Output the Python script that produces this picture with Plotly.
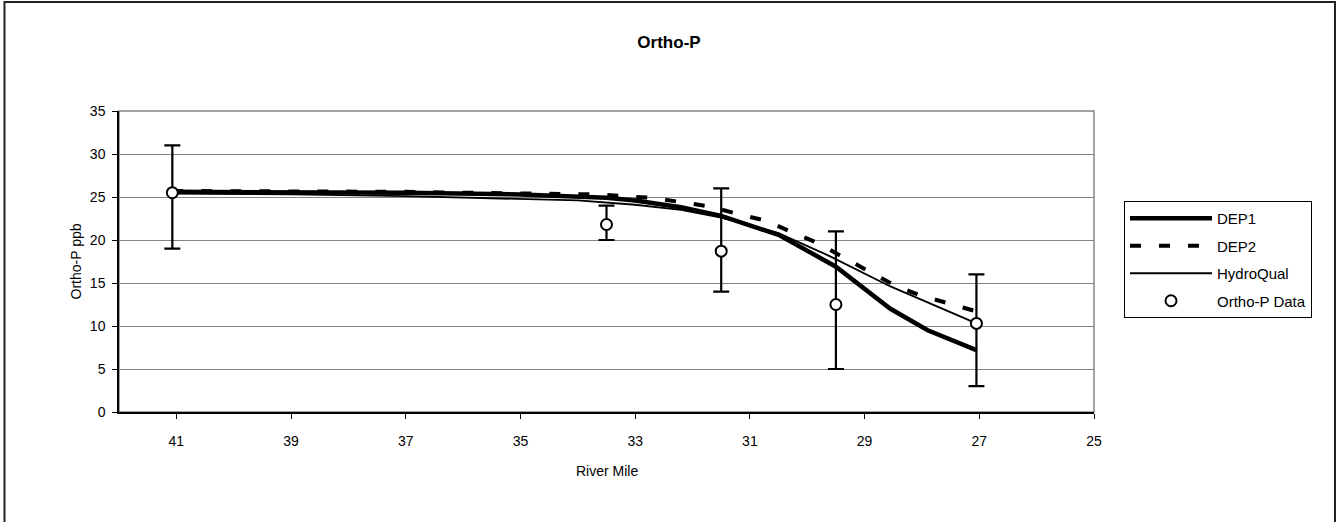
import plotly.graph_objects as go

# ---- data ----
rm_dep1 = [41.07, 39, 37, 35, 34, 33.5, 33, 32.2, 31.5, 30.5, 29.5, 28.55, 27.9, 27.05]
dep1 = [25.6, 25.6, 25.5, 25.3, 25.1, 24.9, 24.6, 23.8, 22.8, 20.6, 16.9, 12.0, 9.5, 7.2]

rm_dep2 = [41.07, 39, 37, 36, 35, 34, 33.6, 33.2, 32.7, 32.2, 31.7, 31.25, 30.7, 30.3,
           29.8, 29.4, 28.95, 28.5, 28.05, 27.6, 27.05]
dep2 = [25.7, 25.7, 25.6, 25.5, 25.45, 25.35, 25.3, 25.1, 24.9, 24.4, 23.9, 23.1, 22.2, 21.0,
        19.6, 18.1, 16.4, 14.8, 13.6, 12.7, 11.7]

rm_hq = [41.07, 39, 37, 35, 34, 33, 32.2, 31.5, 30.5, 29.6, 28.55, 27.05]
hq = [25.4, 25.3, 25.1, 24.8, 24.6, 24.1, 23.5, 22.6, 20.8, 18.1, 14.6, 10.3]

rm_obs = [41.07, 33.5, 31.5, 29.5, 27.05]
obs = [25.5, 21.8, 18.7, 12.5, 10.3]
obs_hi = [31, 24, 26, 21, 16]
obs_lo = [19, 20, 14, 5, 3]

x_ticks = [41, 39, 37, 35, 33, 31, 29, 27, 25]
y_ticks = [0, 5, 10, 15, 20, 25, 30, 35]

FONT = "Liberation Sans, Arial, sans-serif"

fig = go.Figure()
fig.add_trace(go.Scatter(x=rm_dep1, y=dep1, mode="lines", name="DEP1", legendgroup="a",
                         line=dict(color="black", width=4.5)))
fig.add_trace(go.Scatter(x=rm_dep2, y=dep2, mode="lines", name="DEP2", legendgroup="b",
                         line=dict(color="black", width=4, dash="11px,18px")))
fig.add_trace(go.Scatter(x=rm_hq, y=hq, mode="lines", name="HydroQual", legendgroup="c",
                         line=dict(color="black", width=1.8)))
fig.add_trace(go.Scatter(
    x=rm_obs, y=obs, mode="markers", name="Ortho-P Data", legendgroup="d",
    marker=dict(symbol="circle", size=11, color="white", line=dict(color="black", width=2)),
    error_y=dict(type="data", symmetric=False,
                 array=[h - v for h, v in zip(obs_hi, obs)],
                 arrayminus=[v - l for v, l in zip(obs, obs_lo)],
                 color="black", thickness=2.2, width=8),
))

W, H = 1338, 522
L, R, T, B = 119, 244, 111, 110
pw, ph = W - L - R, H - T - B

def px(xp):
    return (xp - L) / pw

def py(yp):
    return (H - B - yp) / ph

fig.update_layout(
    width=W, height=H,
    margin=dict(l=L, r=R, t=T, b=B, pad=0),
    paper_bgcolor="white", plot_bgcolor="white",
    font=dict(family=FONT, size=15, color="black"),
    title=dict(text="<b>Ortho-P</b>", x=0.5, xanchor="center", y=1 - 42 / H, yanchor="middle",
               xref="container", yref="container", font=dict(size=17, family=FONT)),
    showlegend=True,
    legend=dict(x=px(1124), y=py(201), xanchor="left", yanchor="top",
                bordercolor="black", borderwidth=1, bgcolor="white",
                font=dict(size=15, family=FONT), tracegroupgap=5, itemwidth=82),
    xaxis=dict(range=[42, 25], tickvals=x_ticks, ticks="outside", ticklen=5, tickwidth=1,
               tickcolor="black", showline=True, linecolor="black", linewidth=1.5,
               showgrid=False, zeroline=False, ticklabelstandoff=10,
               tickfont=dict(size=14)),
    yaxis=dict(range=[0, 35], tickvals=y_ticks, ticks="outside", ticklen=5, tickwidth=1,
               tickcolor="black", showline=True, linecolor="black", linewidth=1.5,
               showgrid=True, gridcolor="#858585", gridwidth=1, zeroline=False,
               ticklabelstandoff=4, tickfont=dict(size=14)),
    shapes=[
        dict(type="rect", xref="paper", yref="paper", x0=0, x1=1, y0=0, y1=1,
             line=dict(color="#858585", width=1.5), layer="below"),
        dict(type="rect", xref="paper", yref="paper", x0=px(4.5), x1=px(1335),
             y0=py(540), y1=py(2), line=dict(color="#222222", width=2), layer="below"),
    ],
    annotations=[
        dict(text="Ortho-P ppb", xref="paper", yref="paper", x=px(75), y=0.5,
             textangle=-90, showarrow=False, xanchor="center", yanchor="middle",
             font=dict(size=14, family=FONT)),
        dict(text="River Mile", xref="paper", yref="paper", x=0.5, y=py(471),
             showarrow=False, xanchor="center", yanchor="middle",
             font=dict(size=14, family=FONT)),
    ],
)

fig.write_html("out.html")
